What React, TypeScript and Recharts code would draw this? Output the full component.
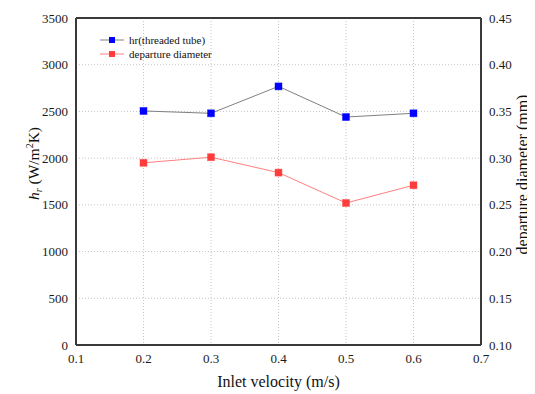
import {
  CartesianGrid,
  Legend,
  Line,
  LineChart,
  XAxis,
  YAxis,
} from "recharts";

// inlet velocity (m/s)
const velocity = [0.2, 0.3, 0.4, 0.5, 0.6];
// hr of threaded tube (W/m2K), left axis
const hrValues = [2505, 2480, 2768, 2440, 2480];
// bubble departure diameter (mm), right axis
const diameterValues = [0.295, 0.301, 0.2845, 0.252, 0.271];

const xTicks = [0.1, 0.2, 0.3, 0.4, 0.5, 0.6, 0.7];
const xMinorTicks = [0.15, 0.25, 0.35, 0.45, 0.55, 0.65];
const leftTicks = [0, 500, 1000, 1500, 2000, 2500, 3000, 3500];
const leftMinorTicks = Array.from({ length: 36 }, (_, i) => i * 100);
const rightTicks = [0.1, 0.15, 0.2, 0.25, 0.3, 0.35, 0.4, 0.45];
const rightMinorTicks = Array.from({ length: 36 }, (_, i) => 0.1 + i * 0.01);

const data = velocity.map((v, i) => ({
  v,
  hr: hrValues[i],
  d: diameterValues[i],
}));

const SERIF = "Liberation Serif";
const FRAME = "#3a3a3a";

// tick label drawn as plain svg text so the serif face is kept
const makeTick =
  (anchor: "start" | "middle" | "end", dy: number, fmt: (v: number) => string) =>
  (props: any) => {
    const { x, y, payload } = props;
    return (
      <text
        x={x}
        y={y}
        dy={dy}
        textAnchor={anchor}
        fontFamily={SERIF}
        fontSize={13}
        fill="#1a1a1a"
      >
        {fmt(payload.value)}
      </text>
    );
  };

const xTick = makeTick("middle", 11, (v) => v.toFixed(1));
const leftTick = makeTick("end", 4.5, (v) => String(v));
const rightTick = makeTick("start", 4.5, (v) => v.toFixed(2));

const squareDot = (fill: string) => (props: any) => {
  const { cx, cy, index } = props;
  if (cx == null || cy == null) return <g key={index} />;
  return (
    <rect
      key={index}
      x={cx - 3.5}
      y={cy - 3.5}
      width={7}
      height={7}
      fill={fill}
      stroke={fill}
      strokeOpacity={0.5}
      strokeWidth={0.8}
    />
  );
};

const legendItems = [
  { name: "hr(threaded tube)", line: "#808080", mark: "#0000ff" },
  { name: "departure diameter", line: "#ff8080", mark: "#ff3c3c" },
];

const renderLegend = () => (
  <div style={{ fontFamily: SERIF, fontSize: 11, lineHeight: "14px", color: "#111" }}>
    {legendItems.map((it) => (
      <div key={it.name} style={{ display: "flex", alignItems: "center", height: 14 }}>
        <svg width={27} height={10} style={{ marginRight: 2 }}>
          <line x1={0} y1={5} x2={24} y2={5} stroke={it.line} strokeWidth={1} />
          <rect x={9} y={2} width={6} height={6} fill={it.mark} />
        </svg>
        <span>{it.name}</span>
      </div>
    ))}
  </div>
);

const LeftLabel = (props: any) => {
  const { viewBox } = props;
  const cx = 31;
  const cy = viewBox.y + viewBox.height / 2 - 18;
  return (
    <text
      x={cx}
      y={cy}
      transform={`rotate(-90, ${cx}, ${cy})`}
      textAnchor="middle"
      fontFamily={SERIF}
      fontSize={15.5}
      fill="#111"
    >
      <tspan fontStyle="italic">h</tspan>
      <tspan fontSize={10} fontStyle="italic" dy={3}>r</tspan>
      <tspan dy={-3}> (W/m</tspan>
      <tspan fontSize={10} dy={-6}>2</tspan>
      <tspan dy={6}>K)</tspan>
    </text>
  );
};

const RightLabel = (props: any) => {
  const { viewBox } = props;
  const cx = 520;
  const cy = viewBox.y + viewBox.height / 2 - 7;
  return (
    <text
      x={cx}
      y={cy}
      transform={`rotate(-90, ${cx}, ${cy})`}
      textAnchor="middle"
      fontFamily={SERIF}
      fontSize={16}
      fill="#111"
    >
      departure diameter (mm)
    </text>
  );
};

const BottomLabel = (props: any) => {
  const { viewBox } = props;
  return (
    <text
      x={viewBox.x + viewBox.width / 2}
      y={379}
      textAnchor="middle"
      fontFamily={SERIF}
      fontSize={16}
      fill="#111"
    >
      Inlet velocity (m/s)
    </text>
  );
};

export default function App() {
  return (
    <div style={{ width: 527, height: 386 }}>
      <LineChart
        width={527}
        height={386}
        data={data}
        margin={{ top: 10, right: 0, bottom: 0, left: 0 }}
      >
        <CartesianGrid yAxisId="left" stroke="#c4c4c4" strokeDasharray="1 2" />
        <XAxis
          dataKey="v"
          type="number"
          domain={[0.1, 0.7]}
          ticks={xTicks}
          tickLine={false}
          tickSize={0}
          tickMargin={7}
          axisLine={{ stroke: FRAME, strokeWidth: 2 }}
          tick={xTick}
          height={49}
          label={<BottomLabel />}
        />
        <XAxis
          xAxisId="xMaj"
          dataKey="v"
          type="number"
          domain={[0.1, 0.7]}
          ticks={xTicks}
          mirror
          tick={false}
          tickSize={5}
          tickLine={{ stroke: FRAME, strokeWidth: 1.5 }}
          axisLine={false}
        />
        <XAxis
          xAxisId="xMin"
          dataKey="v"
          type="number"
          domain={[0.1, 0.7]}
          ticks={xMinorTicks}
          mirror
          tick={false}
          tickSize={3}
          tickLine={{ stroke: FRAME, strokeWidth: 1.5 }}
          axisLine={false}
        />
        <XAxis
          xAxisId="top"
          orientation="top"
          dataKey="v"
          type="number"
          domain={[0.1, 0.7]}
          mirror
          tick={false}
          tickLine={false}
          axisLine={{ stroke: FRAME, strokeWidth: 2 }}
        />
        <YAxis
          yAxisId="left"
          domain={[0, 3500]}
          ticks={leftTicks}
          width={68}
          tickLine={false}
          tickSize={0}
          tickMargin={8}
          axisLine={{ stroke: FRAME, strokeWidth: 2 }}
          tick={leftTick}
          label={<LeftLabel />}
        />
        <YAxis
          yAxisId="leftMaj"
          domain={[0, 3500]}
          ticks={leftTicks}
          mirror
          tick={false}
          tickSize={5}
          tickLine={{ stroke: FRAME, strokeWidth: 1.5 }}
          axisLine={false}
        />
        <YAxis
          yAxisId="leftMin"
          domain={[0, 3500]}
          ticks={leftMinorTicks}
          mirror
          tick={false}
          tickSize={3}
          tickLine={{ stroke: FRAME, strokeWidth: 1.5 }}
          axisLine={false}
        />
        <YAxis
          yAxisId="right"
          orientation="right"
          domain={[0.1, 0.45]}
          ticks={rightTicks}
          width={54}
          tickLine={false}
          tickSize={0}
          tickMargin={8}
          axisLine={{ stroke: FRAME, strokeWidth: 2 }}
          tick={rightTick}
          label={<RightLabel />}
        />
        <YAxis
          yAxisId="rightMaj"
          orientation="right"
          domain={[0.1, 0.45]}
          ticks={rightTicks}
          mirror
          tick={false}
          tickSize={5}
          tickLine={{ stroke: FRAME, strokeWidth: 1.5 }}
          axisLine={false}
        />
        <YAxis
          yAxisId="rightMin"
          orientation="right"
          domain={[0.1, 0.45]}
          ticks={rightMinorTicks}
          mirror
          tick={false}
          tickSize={3}
          tickLine={{ stroke: FRAME, strokeWidth: 1.5 }}
          axisLine={false}
        />
        <Legend
          content={renderLegend}
          verticalAlign="middle"
          wrapperStyle={{ position: "absolute", left: 92, top: 25, width: "auto" }}
        />
        <Line
          yAxisId="left"
          dataKey="hr"
          name="hr(threaded tube)"
          stroke="#808080"
          strokeWidth={1}
          dot={squareDot("#0000ff")}
          isAnimationActive={false}
        />
        <Line
          yAxisId="right"
          dataKey="d"
          name="departure diameter"
          stroke="#ff8080"
          strokeWidth={1}
          dot={squareDot("#ff3c3c")}
          isAnimationActive={false}
        />
      </LineChart>
    </div>
  );
}
